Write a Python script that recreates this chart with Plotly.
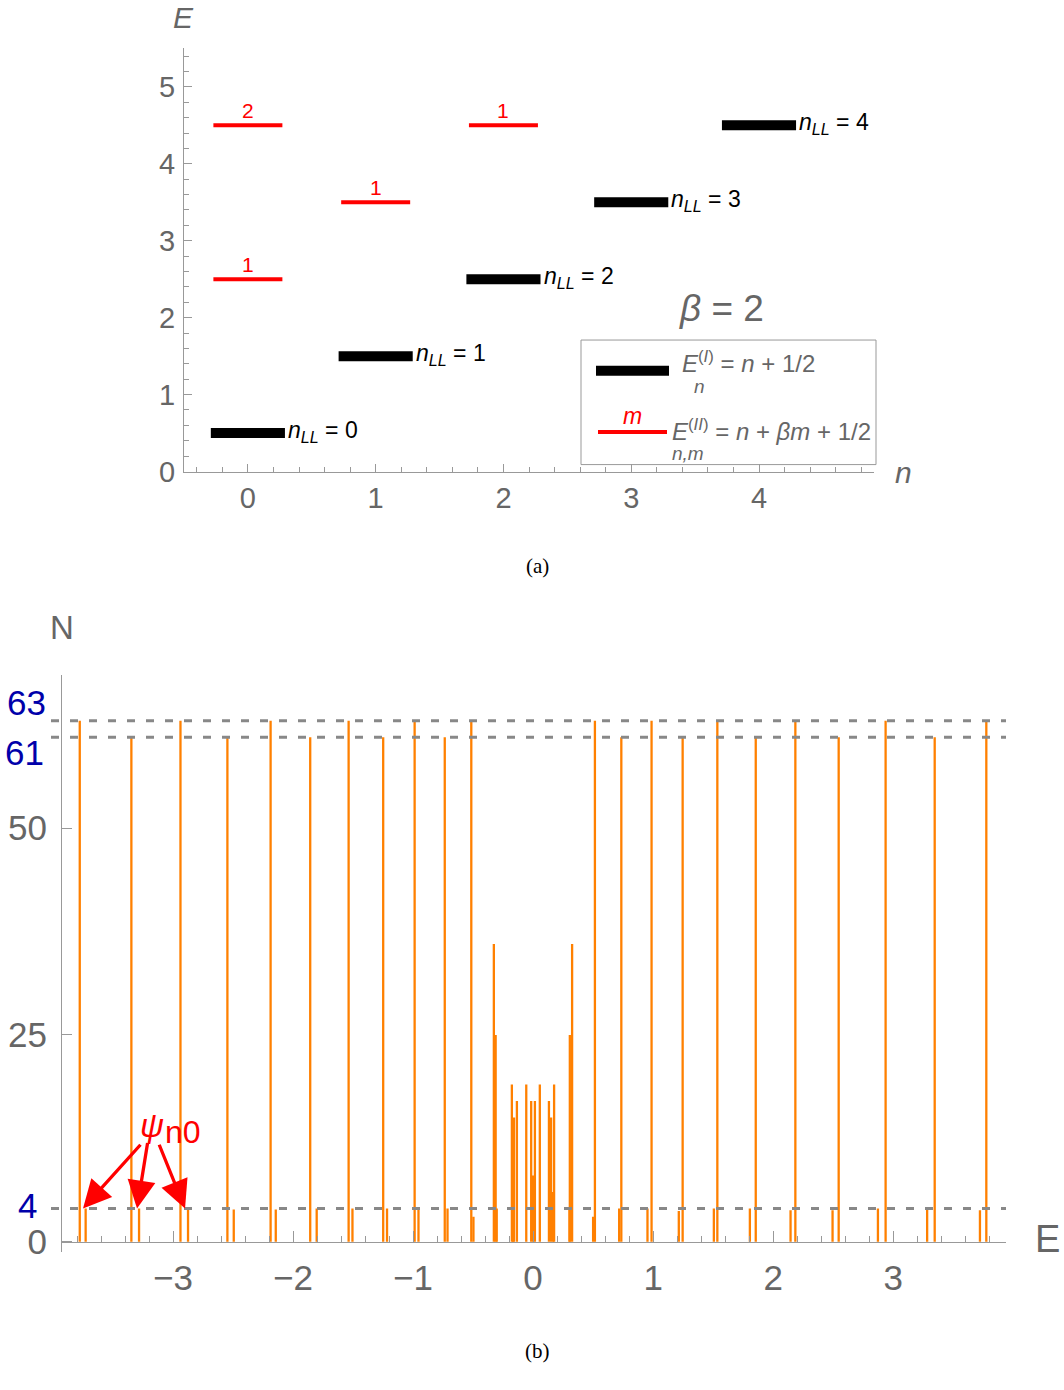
import plotly.graph_objects as go

W, H = 1064, 1390

# ---------------- Panel (a) data ----------------
n_levels = [0, 1, 2, 3, 4]
E_I = [0.5, 1.5, 2.5, 3.5, 4.5]
nLL_labels = ["0", "1", "2", "3", "4"]
n_II = [0, 0, 1, 2]
E_II = [2.5, 4.5, 3.5, 4.5]
m_II = ["1", "2", "1", "1"]
xa_ticks = [0, 1, 2, 3, 4]
ya_ticks = [0, 1, 2, 3, 4, 5]
beta_text = "<i>β</i> = 2"

# ---------------- Panel (b) data ----------------
E_tall = [-3.777, -3.347, -2.938, -2.547, -2.187, -1.857, -1.537, -1.249, -0.987, -0.736, -0.515,
          0.515, 0.735, 0.987, 1.246, 1.535, 1.855, 2.185, 2.546, 2.937, 3.346, 3.776]
N_tall = [63, 61, 63, 61, 63, 61, 63, 61, 63, 61, 63,
          63, 61, 63, 61, 63, 61, 63, 61, 63, 61, 63]
E_short = [-3.728, -3.283, -2.875, -2.494, -2.144, -1.803, -1.505, -1.217, -0.955, -0.713, -0.497, -0.303,
           0.303, 0.500, 0.717, 0.953, 1.214, 1.506, 1.806, 2.145, 2.495, 2.873, 3.283, 3.723]
N_short = [4, 4, 4, 3.9, 3.9, 4, 4, 4, 4, 4, 3, 4,
           4, 3, 4, 4, 3.7, 4, 4, 3.8, 3.8, 4, 3.9, 3.8]
E_center = [-0.327, -0.312, -0.177, -0.166, -0.159, -0.135, -0.057, -0.016, 0.0,
            0.015, 0.056, 0.132, 0.150, 0.166, 0.175, 0.306, 0.325]
N_center = [36, 25, 19, 6, 15, 17, 19, 17, 8,
            17, 19, 17, 15, 6, 19, 25, 36]
ref_levels = [4, 61, 63]
xb_ticks = [-3, -2, -1, 0, 1, 2, 3]
xb_ticktext = ["−3", "−2", "−1", "0", "1", "2", "3"]
yb_ticks = [0, 25, 50]
yb_ticktext = ["0", "25", "50"]
psi_tips_E = [-3.75, -3.30, -2.90]
psi_tips_N = [4, 4, 4]
psi_tails_E = [-3.26, -3.21, -3.12]
psi_tails_N = [11.9, 12.1, 11.9]

# ---------------- styles ----------------
FONT = "Liberation Sans"
GRAY_TXT = "#666666"
AX_COL = "#999999"
ORANGE = "#FF8000"
BLUE = "#0000AA"
HW_I = 0.29     # half width of black bars
HW_II = 0.27    # half width of red bars


def px(x):
    return x / W


def py(y):
    return 1 - y / H


def ptext(x, y, text, size, color, family=FONT, xanchor="center", yanchor="middle"):
    return dict(x=px(x), y=py(y), xref="paper", yref="paper", showarrow=False,
                xanchor=xanchor, yanchor=yanchor, text=text,
                font=dict(family=family, size=size, color=color))


fig = go.Figure()

# ---- Panel (a) traces ----
xs, ys = [], []
for n, e in zip(n_levels, E_I):
    xs += [n - HW_I, n + HW_I, None]
    ys += [e, e, None]
fig.add_trace(go.Scatter(x=xs, y=ys, mode="lines", line=dict(color="black", width=10),
                         xaxis="x", yaxis="y", hoverinfo="skip"))
xs, ys = [], []
for n, e in zip(n_II, E_II):
    xs += [n - HW_II, n + HW_II, None]
    ys += [e, e, None]
fig.add_trace(go.Scatter(x=xs, y=ys, mode="lines", line=dict(color="#FF0000", width=4),
                         xaxis="x", yaxis="y", hoverinfo="skip"))

# ---- Panel (b) spikes ----
xs, ys = [], []
for e, n in list(zip(E_short, N_short)) + list(zip(E_center, N_center)) + list(zip(E_tall, N_tall)):
    xs += [e, e, None]
    ys += [0, n, None]
fig.add_trace(go.Scatter(x=xs, y=ys, mode="lines", line=dict(color=ORANGE, width=2.3),
                         xaxis="x2", yaxis="y2", hoverinfo="skip"))

annotations = []
shapes = []

# n_LL labels
for n, e, lab in zip(n_levels, E_I, nLL_labels):
    annotations.append(dict(
        x=n + HW_I, y=e, xref="x", yref="y", xanchor="left", yanchor="middle",
        xshift=1, yshift=2, showarrow=False,
        text="<i>n</i><sub><i>LL</i></sub> = " + lab,
        font=dict(family=FONT, size=23, color="black")))
# m labels above red bars
for n, e, m in zip(n_II, E_II, m_II):
    annotations.append(dict(
        x=n, y=e, xref="x", yref="y", xanchor="center", yanchor="bottom",
        yshift=1, showarrow=False, text=m,
        font=dict(family=FONT, size=21, color="#FF0000")))

# beta label
annotations.append(ptext(721, 312, beta_text, 37, GRAY_TXT))

# legend box
shapes.append(dict(type="rect", xref="paper", yref="paper", x0=px(581), x1=px(876),
                   y0=py(470), y1=py(344), line=dict(color=AX_COL, width=1), fillcolor="rgba(0,0,0,0)"))
shapes.append(dict(type="line", xref="paper", yref="paper", x0=px(596), x1=px(669),
                   y0=py(375), y1=py(375), line=dict(color="black", width=10)))
shapes.append(dict(type="line", xref="paper", yref="paper", x0=px(598), x1=px(667),
                   y0=py(437), y1=py(437), line=dict(color="#FF0000", width=4)))
annotations.append(ptext(632, 421, "<i>m</i>", 23, "#FF0000"))
annotations.append(ptext(680, 366, "<i>E</i><sup>(<i>I</i>)</sup> = <i>n</i> + 1/2",
                         24, GRAY_TXT, xanchor="left"))
annotations.append(ptext(699, 391, "<i>n</i>", 19, GRAY_TXT))
annotations.append(ptext(670, 435, "<i>E</i><sup>(<i>II</i>)</sup> = <i>n</i> + <i>βm</i> + 1/2",
                         24, GRAY_TXT, xanchor="left"))
annotations.append(ptext(688, 459, "<i>n,m</i>", 19, GRAY_TXT))

# axis titles (a)
annotations.append(ptext(183, 18, "<i>E</i>", 30, GRAY_TXT))
annotations.append(ptext(903, 478, "<i>n</i>", 30, GRAY_TXT))
# axis titles (b)
annotations.append(ptext(62, 635, "N", 33, GRAY_TXT))
annotations.append(ptext(1047, 1253, "E", 38, GRAY_TXT))

# captions
annotations.append(ptext(537, 573, "(a)", 21, "black", family="Liberation Serif"))
annotations.append(ptext(537, 1367, "(b)", 21, "black", family="Liberation Serif"))

# reference dashed lines (b)
xb_range = [-3.925, 3.94]
xb_dom = [px(62), px(1006)]
for lv in ref_levels:
    shapes.append(dict(type="line", xref="x2 domain", yref="y2", x0=-11 / 944, x1=1.0,
                       y0=lv, y1=lv, line=dict(color="#888888", width=3, dash="8px,11px")))

# blue labels for reference levels
blue_pos = {63: (48, 18), 61: (46, -15), 4: (39, 3)}
for lv in ref_levels:
    xr, ysh = blue_pos[lv]
    annotations.append(dict(x=px(xr), y=lv, xref="paper", yref="y2", xanchor="right",
                            yanchor="middle", yshift=ysh, showarrow=False, text=str(lv),
                            font=dict(family=FONT, size=35, color=BLUE)))

# psi arrows
for te, tn, ae, an in zip(psi_tips_E, psi_tips_N, psi_tails_E, psi_tails_N):
    annotations.append(dict(x=te, y=tn, xref="x2", yref="y2", ax=ae, ay=an, axref="x2", ayref="y2",
                            text="", showarrow=True, arrowhead=2, arrowsize=1.7, arrowwidth=3.3,
                            arrowcolor="#FF0000"))
annotations.append(ptext(152, 1139, "<i>ψ</i>", 33, "#FF0000"))
annotations.append(ptext(183, 1145, "n0", 32, "#FF0000"))

# ---- axes ----
ya_dom = [py(477), py(49)]
yb_range = [-1.3, 68.5]
yb_dom = [py(1267), py(683)]
x2_pos = yb_dom[0] + (0 - yb_range[0]) / (yb_range[1] - yb_range[0]) * (yb_dom[1] - yb_dom[0])

common = dict(showgrid=False, zeroline=False, showline=True, linecolor=AX_COL, linewidth=1,
              ticks="inside", tickcolor=AX_COL, tickwidth=1)

fig.update_layout(
    width=W, height=H, autosize=False, margin=dict(l=0, r=0, t=0, b=0, pad=0),
    paper_bgcolor="white", plot_bgcolor="white", showlegend=False,
    xaxis=dict(domain=[px(184), px(874)], range=[-0.5, 4.9], anchor="y",
               tickvals=xa_ticks, ticklen=8, ticklabelstandoff=1,
               tickfont=dict(family=FONT, size=29, color=GRAY_TXT),
               minor=dict(dtick=0.2, tick0=0, ticks="inside", ticklen=5, tickcolor=AX_COL),
               **common),
    yaxis=dict(domain=ya_dom, range=[0, 5.5], anchor="x",
               tickvals=ya_ticks, ticklen=8, ticklabelstandoff=2,
               tickfont=dict(family=FONT, size=29, color=GRAY_TXT),
               minor=dict(dtick=0.2, tick0=0, ticks="inside", ticklen=5, tickcolor=AX_COL),
               **common),
    xaxis2=dict(domain=xb_dom, range=xb_range, anchor="free", position=x2_pos,
                tickvals=xb_ticks, ticktext=xb_ticktext, ticklen=11, ticklabelstandoff=5,
                tickfont=dict(family=FONT, size=35, color=GRAY_TXT),
                minor=dict(dtick=0.2, tick0=0, ticks="inside", ticklen=6, tickcolor=AX_COL),
                **common),
    yaxis2=dict(domain=yb_dom, range=yb_range, anchor="x2",
                tickvals=yb_ticks, ticktext=yb_ticktext, ticklen=10, ticklabelstandoff=7,
                tickfont=dict(family=FONT, size=35, color=GRAY_TXT),
                **common),
    annotations=annotations, shapes=shapes,
)

fig.write_html("out.html", config={"responsive": False})
